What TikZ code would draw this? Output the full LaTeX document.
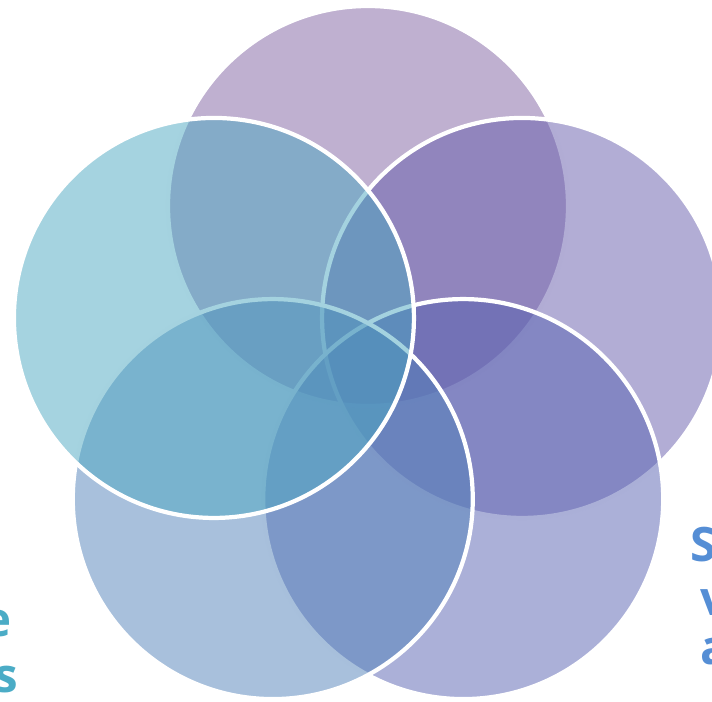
\documentclass[tikz,border=0pt]{standalone}
\usepackage{fontspec}
\setmainfont{Open Sans}
\definecolor{vtop}{RGB}{127,97,161}
\definecolor{vright}{RGB}{101,91,171}
\definecolor{vbright}{RGB}{87,97,177}
\definecolor{vbleft}{RGB}{81,129,185}
\definecolor{vleft}{RGB}{75,167,193}
\definecolor{txtblue}{RGB}{85,142,213}
\definecolor{txtaqua}{RGB}{75,172,198}

\begin{document}
\begin{tikzpicture} [x=0.02cm, y=0.02cm]
\useasboundingbox (-368,368) rectangle (344,-333);
\clip (-368,368) rectangle (344,-333);
\foreach \ang/\col in {90/vtop, 18/vright, -54/vbright, -126/vbleft, 162/vleft} {
 \draw[white, line width=2.4pt, fill=\col, fill opacity=.5] (\ang:162) circle (200);
}
\node[anchor=base west, inner sep=0, text=txtblue, font=\bfseries\fontsize{27}{32}\selectfont] (s1) at (322,-193) {S};
\node[anchor=base west, inner sep=0, text=txtblue, font=\bfseries\fontsize{27}{32}\selectfont] (s2) at (332,-247) {v};
\node[anchor=base west, inner sep=0, text=txtblue, font=\bfseries\fontsize{27}{32}\selectfont] (s3) at (332,-296) {a};
\node[anchor=base east, inner sep=0, text=txtaqua, font=\bfseries\fontsize{27}{32}\selectfont] (e1) at (-356,-268) {e};
\node[anchor=base east, inner sep=0, text=txtaqua, font=\bfseries\fontsize{27}{32}\selectfont] (e2) at (-350,-324) {s};
\end{tikzpicture}
\end{document}
